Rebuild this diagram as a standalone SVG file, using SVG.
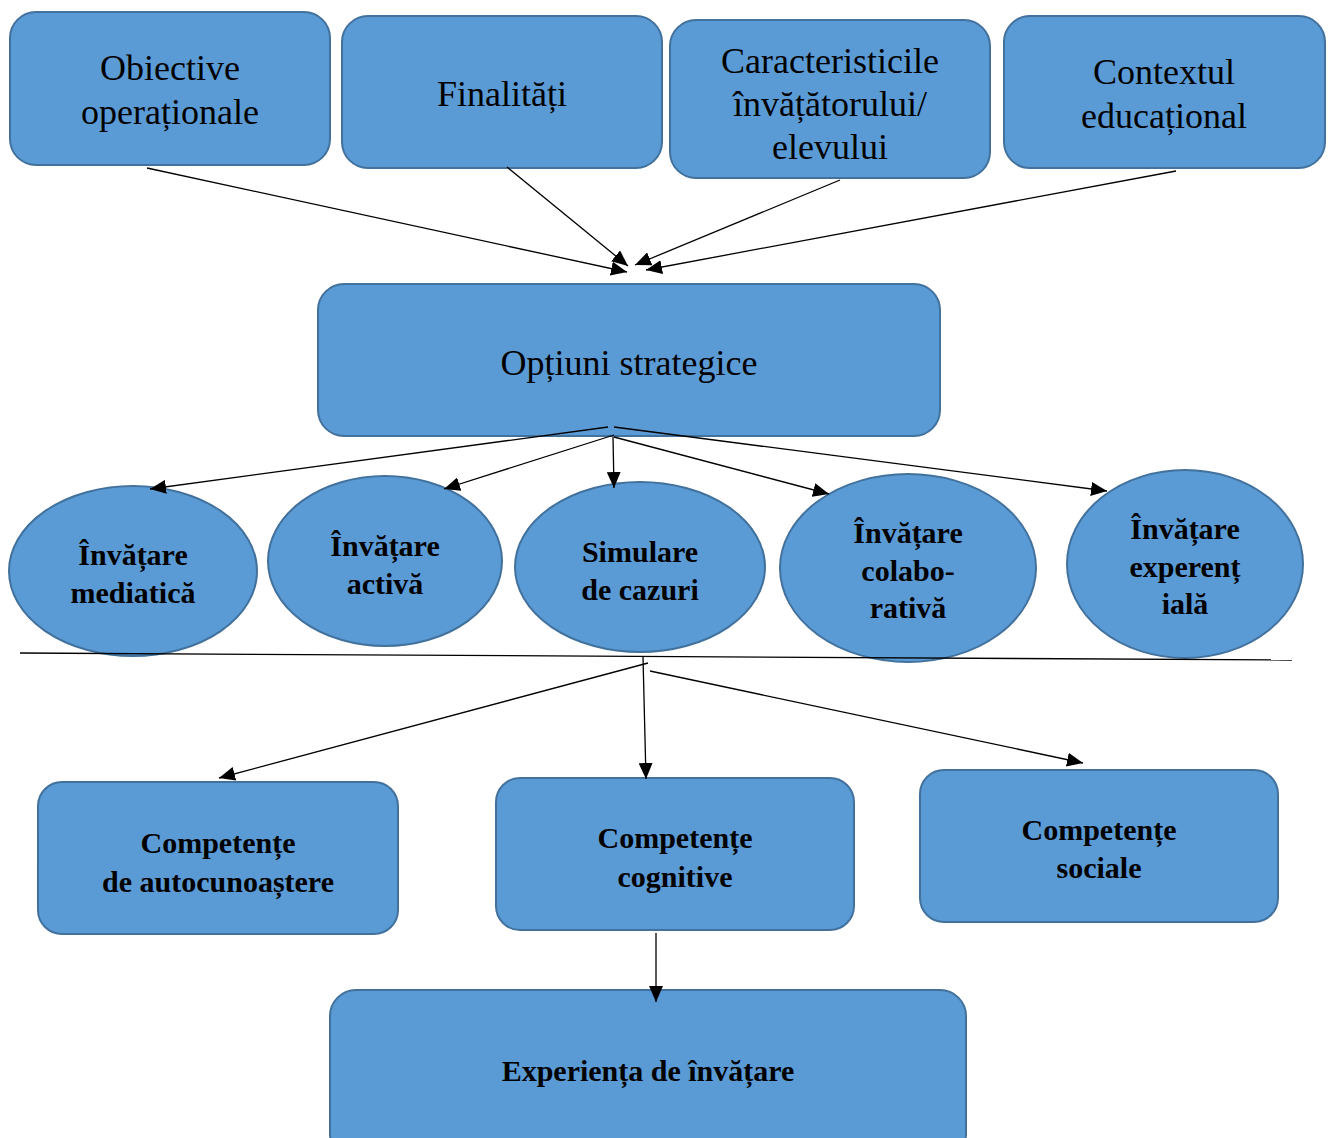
<svg xmlns="http://www.w3.org/2000/svg" width="1335" height="1138" viewBox="0 0 1335 1138">
  <style>
    .box { fill: #5B9BD5; stroke: #41719C; stroke-width: 2; }
    .ln { stroke: #000; stroke-width: 1.3; fill: none; }
  </style>
  <defs>
    <marker id="arr" markerUnits="userSpaceOnUse" markerWidth="18" markerHeight="14" refX="16" refY="7" orient="auto">
      <path d="M0,0 L16,7 L0,14 Z" fill="#000"/>
    </marker>
  </defs>
  <rect width="1335" height="1138" fill="#fff"/>

  <!-- regular labels: top row and central node -->
  <g font-family="Liberation Serif, Times New Roman, serif" font-size="36" fill="#000" text-anchor="middle">
    <g id="obiective">
      <rect class="box" x="10" y="12" width="320" height="153" rx="26"/>
      <text x="170" y="80">Obiective</text>
      <text x="170" y="124">operaționale</text>
    </g>
    <g id="finalitati">
      <rect class="box" x="342" y="16" width="320" height="152" rx="26"/>
      <text x="502" y="106">Finalități</text>
    </g>
    <g id="caracteristici">
      <rect class="box" x="670" y="20" width="320" height="158" rx="26"/>
      <text x="830" y="73">Caracteristicile</text>
      <text x="830" y="116">învățătorului/</text>
      <text x="830" y="159">elevului</text>
    </g>
    <g id="context">
      <rect class="box" x="1004" y="16" width="321" height="152" rx="26"/>
      <text x="1164" y="84">Contextul</text>
      <text x="1164" y="128">educațional</text>
    </g>
    <g id="optiuni">
      <rect class="box" x="318" y="284" width="622" height="152" rx="26"/>
      <text x="629" y="375">Opțiuni strategice</text>
    </g>
  </g>

  <!-- bold labels: learning types and outcomes -->
  <g font-family="Liberation Serif, Times New Roman, serif" font-size="30" font-weight="bold" fill="#000" text-anchor="middle">
    <g id="mediatica">
      <ellipse class="box" cx="133" cy="571" rx="124" ry="85"/>
      <text x="133" y="565">Învățare</text>
      <text x="133" y="603">mediatică</text>
    </g>
    <g id="activa">
      <ellipse class="box" cx="385" cy="561" rx="117" ry="85"/>
      <text x="385" y="556">Învățare</text>
      <text x="385" y="594">activă</text>
    </g>
    <g id="simulare">
      <ellipse class="box" cx="640" cy="567" rx="125" ry="85"/>
      <text x="640" y="562">Simulare</text>
      <text x="640" y="600">de cazuri</text>
    </g>
    <g id="colaborativa">
      <ellipse class="box" cx="908" cy="568" rx="128" ry="94"/>
      <text x="908" y="543">Învățare</text>
      <text x="908" y="581">colabo-</text>
      <text x="908" y="618">rativă</text>
    </g>
    <g id="experentiala">
      <ellipse class="box" cx="1185" cy="564" rx="118" ry="94"/>
      <text x="1185" y="539">Învățare</text>
      <text x="1185" y="577">experenț</text>
      <text x="1185" y="614">ială</text>
    </g>

    <g id="autocunoastere">
      <rect class="box" x="38" y="782" width="360" height="152" rx="24"/>
      <text x="218" y="853">Competențe</text>
      <text x="218" y="892">de autocunoaștere</text>
    </g>
    <g id="cognitive">
      <rect class="box" x="496" y="778" width="358" height="152" rx="24"/>
      <text x="675" y="848">Competențe</text>
      <text x="675" y="887">cognitive</text>
    </g>
    <g id="sociale">
      <rect class="box" x="920" y="770" width="358" height="152" rx="24"/>
      <text x="1099" y="840">Competențe</text>
      <text x="1099" y="878">sociale</text>
    </g>
    <g id="experienta">
      <rect class="box" x="330" y="990" width="636" height="170" rx="26"/>
      <text x="648" y="1081">Experiența de învățare</text>
    </g>
  </g>

  <!-- connectors -->
  <g id="connectors">
    <line class="ln" x1="147" y1="168" x2="627" y2="272" marker-end="url(#arr)"/>
    <line class="ln" x1="507" y1="167" x2="628" y2="266" marker-end="url(#arr)"/>
    <line class="ln" x1="840" y1="180" x2="635" y2="265" marker-end="url(#arr)"/>
    <line class="ln" x1="1176" y1="171" x2="646" y2="270" marker-end="url(#arr)"/>

    <line class="ln" x1="608" y1="427" x2="150" y2="489" marker-end="url(#arr)"/>
    <line class="ln" x1="614" y1="435" x2="444" y2="489" marker-end="url(#arr)"/>
    <line class="ln" x1="613" y1="437" x2="614" y2="488" marker-end="url(#arr)"/>
    <line class="ln" x1="614" y1="437" x2="829" y2="494" marker-end="url(#arr)"/>
    <line class="ln" x1="614" y1="427" x2="1107" y2="491" marker-end="url(#arr)"/>

    <line class="ln" x1="20" y1="653" x2="1292" y2="660"/>

    <line class="ln" x1="648" y1="663" x2="219" y2="778" marker-end="url(#arr)"/>
    <line class="ln" x1="643" y1="657" x2="646" y2="779" marker-end="url(#arr)"/>
    <line class="ln" x1="650" y1="671" x2="1083" y2="763" marker-end="url(#arr)"/>

    <line class="ln" x1="656" y1="933" x2="656" y2="1002" marker-end="url(#arr)"/>
  </g>
</svg>
